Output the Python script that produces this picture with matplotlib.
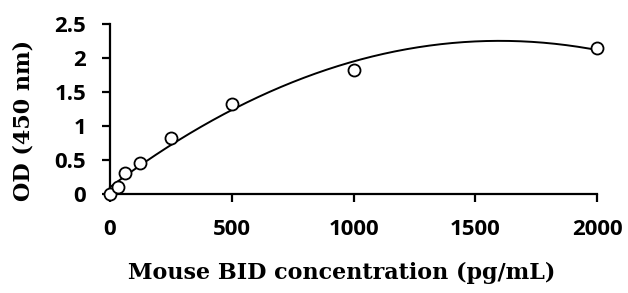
import numpy as np
import matplotlib
matplotlib.use("Agg")
import matplotlib.pyplot as plt

conc = [0, 31.25, 62.5, 125, 250, 500, 1000, 2000]
od = [0.0, 0.107, 0.31, 0.45, 0.83, 1.32, 1.83, 2.14]
xticks = [0, 500, 1000, 1500, 2000]
yticks = [0, 0.5, 1, 1.5, 2, 2.5]
ytick_labels = ["0", "0.5", "1", "1.5", "2", "2.5"]

fig = plt.figure(figsize=(6.28, 2.93), dpi=100)
ax = fig.add_axes([0.175, 0.338, 0.776, 0.58])

coef = np.polyfit(conc, od, 2)
xs = np.linspace(0, 2000, 300)
ax.plot(xs, np.polyval(coef, xs), color="black", lw=1.4, clip_on=False)
ax.scatter(conc, od, s=75, facecolors="white", edgecolors="black", linewidths=1.3, zorder=3, clip_on=False)

ax.set_xlim(0, 2000)
ax.set_ylim(0, 2.5)
ax.set_xticks(xticks)
ax.set_yticks(yticks)
ax.set_yticklabels(ytick_labels)
for s in ["top", "right"]:
    ax.spines[s].set_visible(False)
for s in ["left", "bottom"]:
    ax.spines[s].set_linewidth(1.6)
ax.tick_params(direction="out", length=6, width=1.6, labelsize=16)
ax.tick_params(axis="x", pad=12)
ax.tick_params(axis="y", pad=11)
for lab in ax.get_xticklabels() + ax.get_yticklabels():
    lab.set_fontfamily("Open Sans")
    lab.set_fontweight("bold")

fig.text(342 / 628, 1 - 273 / 293, "Mouse BID concentration (pg/mL)",
         fontsize=16, fontweight="bold", family="DejaVu Serif", ha="center", va="center")
fig.text(24 / 628, 1 - 120 / 293, "OD (450 nm)", rotation=90,
         fontsize=16, fontweight="bold", family="DejaVu Serif", ha="center", va="center")

fig.savefig("out.png", dpi=100)
